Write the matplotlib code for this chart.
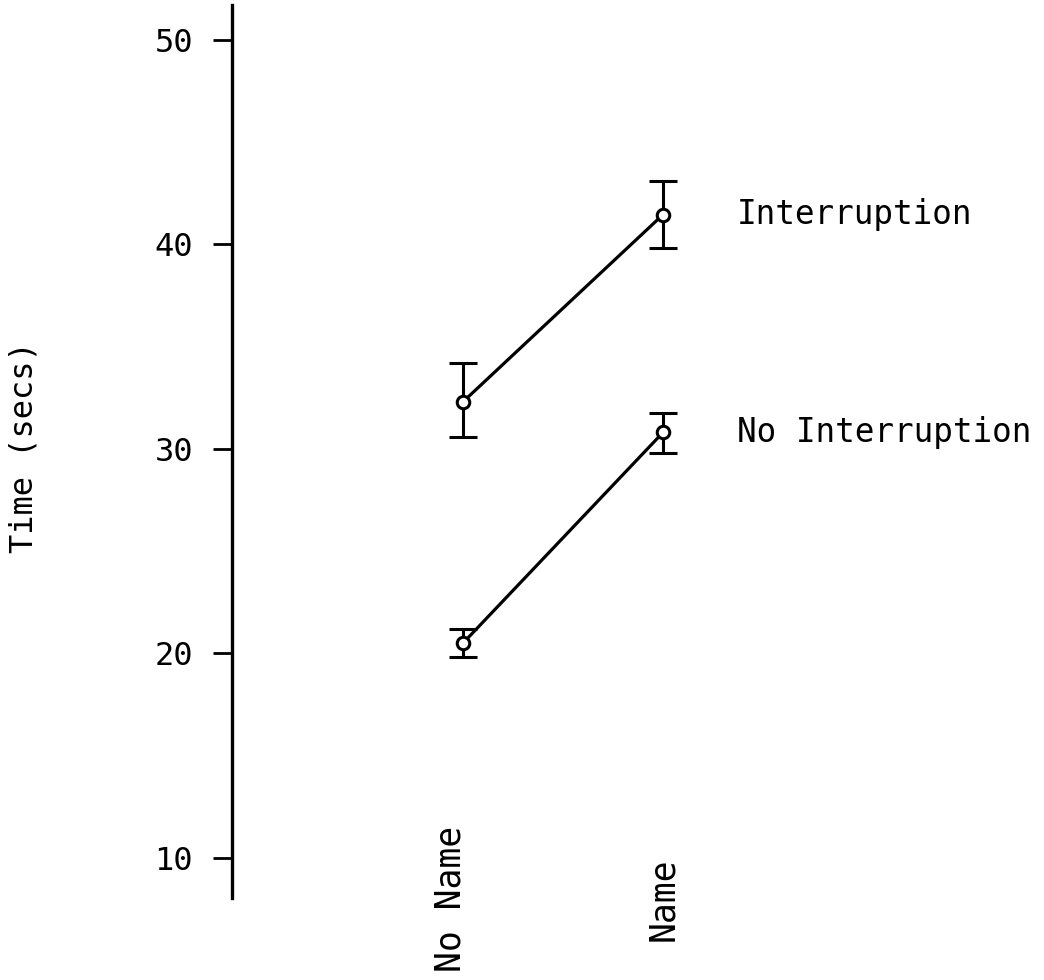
import numpy as np
import matplotlib
matplotlib.use('Agg')
import matplotlib.pyplot as plt

# Datos
conditions = ['No Name', 'Name']
series = ['Interruption', 'No Interruption']
means = {'Interruption': [32.3, 41.45], 'No Interruption': [20.5, 30.8]}
err_low = {'Interruption': [30.6, 39.8], 'No Interruption': [19.8, 29.8]}
err_high = {'Interruption': [34.2, 43.1], 'No Interruption': [21.2, 31.75]}
yticks = [10, 20, 30, 40, 50]

plt.rcParams['font.family'] = 'DejaVu Sans Mono'
fig = plt.figure(figsize=(10.44, 9.8), dpi=100)
ax = fig.add_axes([0.2222, 0.0837, 0.7778, 0.9112])

x = np.arange(len(conditions))
for s in series:
    m = np.array(means[s])
    lo = m - np.array(err_low[s])
    hi = np.array(err_high[s]) - m
    ax.errorbar(x, m, yerr=[lo, hi], color='black', lw=2.3, elinewidth=2.2,
                capsize=10, capthick=2.2, marker='o', markersize=9,
                markerfacecolor='white', markeredgewidth=2.2)
    ax.text(x[-1] + 0.37, m[-1], s, fontsize=23.5, va='center', ha='left')

ax.set_xlim(-1.155, 2.905)
ax.set_ylim(8.04, 51.7)
ax.set_yticks(yticks)
ax.tick_params(axis='y', direction='out', length=14, width=2, pad=14, labelsize=23)
ax.set_xticks([])
for side in ['top', 'right', 'bottom']:
    ax.spines[side].set_visible(False)
ax.spines['left'].set_linewidth(2.4)

# Etiquetas verticales del eje x
for xi, lab in zip(x, conditions):
    ax.text(xi - 0.06 * (lab == 'No Name'), -0.001, lab, rotation=90, fontsize=25,
            ha='center', va='center', transform=ax.get_xaxis_transform())

fig.text(24 / 1044, 1 - 447 / 980, 'Time (secs)', rotation=90, fontsize=23,
         ha='center', va='center')

fig.savefig('out.png', dpi=100)
